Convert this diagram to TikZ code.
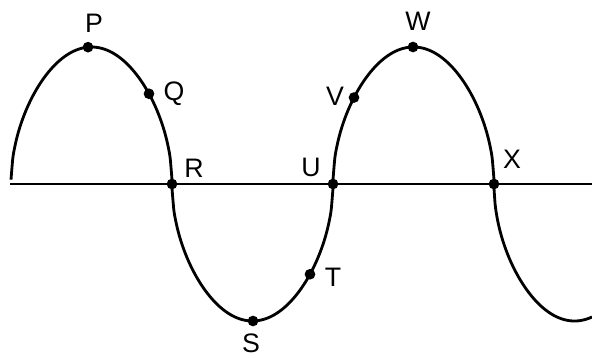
\documentclass[tikz,border=0pt]{standalone}
\usepackage{fontspec}
\setmainfont{Liberation Sans}
\usepackage{tikz}
\usetikzlibrary{positioning}

\begin{document}
\begin{tikzpicture}[
			x=0.025cm, y=-0.025cm,
			declare function={hump(\pos)=137*sqrt(max(abs(sin((\pos-11)/161*180)),0.001));},
			wave/.style={line width=2pt, samples=90, smooth},
			axis/.style={line width=1.8pt},
			dot/.style={fill=black},
			lbl/.style={font=\fontsize{19}{22}\selectfont, inner sep=0pt}
			]
			
			\useasboundingbox (0,0) rectangle (592,357);
			
			\draw[axis] (10,184) -- (592,184);
			
			\draw[wave] plot[domain=11:172] (\x,{184-hump(\x)})
			-- plot[domain=172:333] (\x,{184+hump(\x)})
			-- plot[domain=333:494] (\x,{184-hump(\x)})
			-- plot[domain=494:592] (\x,{184+hump(\x)});
			
			\coordinate (P) at (88,{184-hump(88)});
			\coordinate (Q) at (149,{184-hump(149)});
			\coordinate (R) at (172,184);
			\coordinate (S) at (253,{184+hump(253)});
			\coordinate (T) at (310,{184+hump(310)});
			\coordinate (U) at (333,184);
			\coordinate (V) at (354,{184-hump(354)});
			\coordinate (W) at (413,{184-hump(413)});
			\coordinate (X) at (494,184);
			
			\foreach \p in {P,Q,R,S,T,U,V,W,X}
			\fill[dot] (\p) circle[radius=3.8pt];
			
			\node[lbl] (labelP) at ([shift={(6,-24)}]P) {P};
			\node[lbl] (labelQ) at ([shift={(25,0)}]Q) {Q};
			\node[lbl] (labelR) at ([shift={(22,-16)}]R) {R};
			\node[lbl] (labelS) at ([shift={(-2,22)}]S) {S};
			\node[lbl] (labelT) at ([shift={(23,3)}]T) {T};
			\node[lbl] (labelU) at ([shift={(-22,-17)}]U) {U};
			\node[lbl] (labelV) at ([shift={(-19,-1)}]V) {V};
			\node[lbl] (labelW) at ([shift={(5,-26)}]W) {W};
			\node[lbl] (labelX) at ([shift={(18,-25)}]X) {X};
			
		\end{tikzpicture}
\end{document}
